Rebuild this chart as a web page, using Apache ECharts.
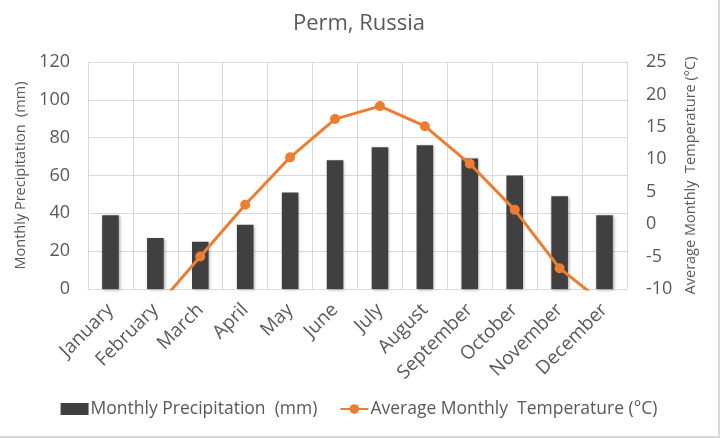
<!DOCTYPE html>
<html>
<head>
<meta charset="utf-8">
<script src="https://cdn.jsdelivr.net/npm/echarts@6/dist/echarts.min.js"></script>
<style>
    html, body { margin: 0; padding: 0; background: #fff; }
    #main { width: 720px; height: 438px; box-sizing: border-box; border-right: 2px solid #d9d9d9; border-bottom: 2px solid #d9d9d9; }
</style>
</head>
<body>
<div id="main"></div>
<script>
    // 数据
    var months = ['January', 'February', 'March', 'April', 'May', 'June',
        'July', 'August', 'September', 'October', 'November', 'December'];
    var precipitation = [39, 27, 25, 34, 51, 68, 75, 76, 69, 60, 49, 39];
    var temperature = [-15, -13, -5, 3, 10.3, 16.2, 18.2, 15.1, 9.3, 2.2, -6.8, -12.3];
    var leftTicks = [0, 120, 20];
    var rightTicks = [-10, 25, 5];

    var textColor = '#595959';
    var font = 'Open Sans';

    var myChart = echarts.init(document.getElementById('main'));
    var option = {
        animation: false,
        textStyle: { fontFamily: font, color: textColor },
        title: {
            text: 'Perm, Russia',
            left: 'center',
            top: 8,
            textStyle: { fontFamily: font, fontSize: 22, fontWeight: 'normal', color: textColor }
        },
        grid: { left: 88, right: 91, top: 62, bottom: 147 },
        legend: {
            bottom: 13,
            left: 'center',
            itemGap: 22,
            itemWidth: 28,
            itemHeight: 12,
            textStyle: { fontFamily: font, fontSize: 17.5, color: textColor, padding: [0, 0, 0, -3] },
            data: [
                { name: 'Monthly Precipitation  (mm)', icon: 'rect' },
                { name: 'Average Monthly  Temperature (°C)' }
            ]
        },
        xAxis: {
            type: 'category',
            data: months,
            axisTick: { show: false },
            axisLine: { lineStyle: { color: '#d9d9d9' } },
            splitLine: { show: true, lineStyle: { color: '#d9d9d9', width: 1 } },
            axisLabel: { rotate: 45, fontSize: 19, color: textColor, margin: 18, interval: 0 }
        },
        yAxis: [
            {
                type: 'value',
                min: leftTicks[0],
                max: leftTicks[1],
                interval: leftTicks[2],
                name: 'Monthly Precipitation  (mm)',
                nameLocation: 'middle',
                nameGap: 51,
                nameTextStyle: { fontSize: 14.5, color: textColor },
                axisLabel: { fontSize: 18, color: textColor, margin: 18 },
                splitLine: { lineStyle: { color: '#d9d9d9' } }
            },
            {
                type: 'value',
                min: rightTicks[0],
                max: rightTicks[1],
                interval: rightTicks[2],
                name: 'Average Monthly  Temperature (°C)',
                nameLocation: 'middle',
                nameGap: 56,
                nameTextStyle: { fontSize: 14.5, color: textColor },
                axisLabel: { fontSize: 18, color: textColor, margin: 19 },
                splitLine: { show: false }
            }
        ],
        series: [
            {
                name: 'Monthly Precipitation  (mm)',
                type: 'bar',
                barWidth: '37%',
                yAxisIndex: 0,
                itemStyle: {
                    color: '#404040',
                    shadowColor: 'rgba(0,0,0,0.35)',
                    shadowBlur: 3,
                    shadowOffsetX: 1,
                    shadowOffsetY: 1
                },
                data: precipitation
            },
            {
                name: 'Average Monthly  Temperature (°C)',
                type: 'line',
                yAxisIndex: 1,
                clip: true,
                symbol: 'circle',
                symbolSize: 10,
                lineStyle: { color: '#ED7D31', width: 3 },
                itemStyle: { color: '#ED7D31' },
                data: temperature
            }
        ]
    };
    myChart.setOption(option);
</script>
</body>
</html>
